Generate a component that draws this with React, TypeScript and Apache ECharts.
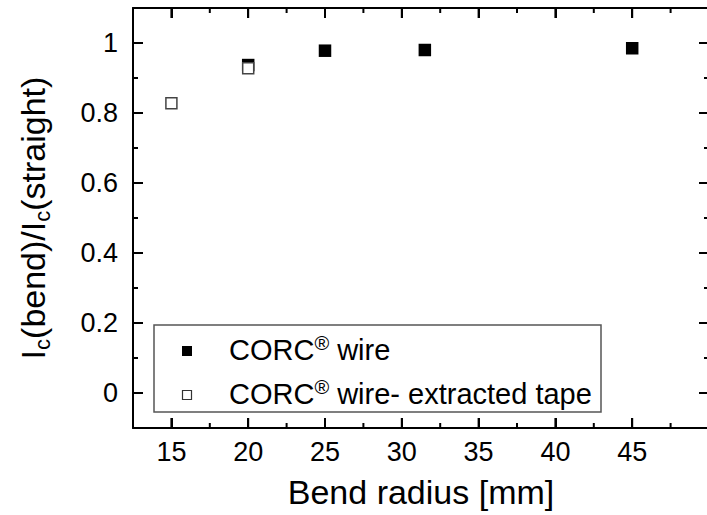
import React, { useEffect, useRef } from "react";
import * as echarts from "echarts";

const wireRadius = [20, 25, 31.5, 45];
const wireRatio = [0.937, 0.978, 0.98, 0.985];
const tapeRadius = [15, 20];
const tapeRatio = [0.828, 0.928];

const xMajorTicks = [15, 20, 25, 30, 35, 40, 45];
const xMinorTicks = [17.5, 22.5, 27.5, 32.5, 37.5, 42.5, 47.5];
const xTickLabels = [15, 20, 25, 30, 35, 40, 45];
const yMajorTicks = [0, 0.2, 0.4, 0.6, 0.8, 1];
const yMinorTicks = [0.1, 0.3, 0.5, 0.7, 0.9];
const yTickLabels = [0, 0.2, 0.4, 0.6, 0.8, 1];

const seriesNames = ["CORC® wire", "CORC® wire- extracted tape"];

const X_MIN = 12.5;
const X_MAX = 50;
const Y_MIN = -0.1;
const Y_MAX = 1.1;
const X_MID = (X_MIN + X_MAX) / 2;
const Y_MID = (Y_MIN + Y_MAX) / 2;

const FONT = "'Liberation Sans', Arial, Helvetica, sans-serif";

export default function App() {
  const ref = useRef<HTMLDivElement>(null);
  useEffect(() => {
    if (!ref.current) return;
    const chart = echarts.init(ref.current, undefined, { renderer: "svg" });
    const line = { show: true, onZero: false, lineStyle: { color: "#000", width: 2 } };
    const majorTick = { show: true, inside: true, length: 10, lineStyle: { color: "#000", width: 2 } };
    const xBase = { type: "value", min: X_MIN, max: X_MAX, splitNumber: 8, splitLine: { show: false } };
    const yBase = { type: "value", min: Y_MIN, max: Y_MAX, splitNumber: 6, splitLine: { show: false } };

    const xTicks = (vals: number[], len: number) => ({
      type: "custom",
      xAxisIndex: 0,
      yAxisIndex: 0,
      data: vals.map((v) => [v, Y_MID]),
      renderItem: (_p: any, api: any) => {
        const v = api.value(0);
        const b = api.coord([v, Y_MIN]);
        const t = api.coord([v, Y_MAX]);
        return {
          type: "group",
          children: [
            { type: "line", shape: { x1: b[0], y1: b[1], x2: b[0], y2: b[1] - len }, style: { stroke: "#000", lineWidth: 2 } },
            { type: "line", shape: { x1: t[0], y1: t[1], x2: t[0], y2: t[1] + len }, style: { stroke: "#000", lineWidth: 2 } },
          ],
        };
      },
    });
    const yTicks = (vals: number[], len: number) => ({
      type: "custom",
      xAxisIndex: 0,
      yAxisIndex: 0,
      data: vals.map((v) => [X_MID, v]),
      renderItem: (_p: any, api: any) => {
        const v = api.value(1);
        const l = api.coord([X_MIN, v]);
        const r = api.coord([X_MAX, v]);
        return {
          type: "group",
          children: [
            { type: "line", shape: { x1: l[0], y1: l[1], x2: l[0] + len, y2: l[1] }, style: { stroke: "#000", lineWidth: 2 } },
            { type: "line", shape: { x1: r[0], y1: r[1], x2: r[0] - len, y2: r[1] }, style: { stroke: "#000", lineWidth: 2 } },
          ],
        };
      },
    });

    const legendText = (name: string, y: number) => ({
      type: "text",
      x: 229,
      y,
      style: {
        text: name.replace("®", "{sup|®}"),
        fontSize: 29,
        lineHeight: 34,
        fontFamily: FONT,
        fill: "#000",
        verticalAlign: "middle",
        align: "left",
        rich: {
          sup: { fontSize: 20, lineHeight: 22, verticalAlign: "top", fill: "#000", fontFamily: FONT },
        },
      },
    });

    chart.setOption({
      animation: false,
      backgroundColor: "#fff",
      grid: { left: 133, right: -2, top: 8, bottom: 87, containLabel: false, outerBoundsMode: "none" },
      xAxis: [
        {
          ...xBase,
          position: "bottom",
          axisLine: line,
          axisTick: majorTick,
          axisLabel: {
            customValues: xTickLabels,
            fontSize: 27,
            color: "#000",
            fontFamily: FONT,
            margin: 10,
          },
          name: "Bend radius [mm]",
          nameLocation: "middle",
          nameGap: 47,
          nameTextStyle: { fontSize: 34, color: "#000", fontFamily: FONT },
        },
        { ...xBase, position: "top", axisLine: line, axisTick: majorTick, axisLabel: { show: false } },
      ],
      yAxis: [
        {
          ...yBase,
          position: "left",
          axisLine: line,
          axisTick: majorTick,
          axisLabel: {
            customValues: yTickLabels,
            fontSize: 27,
            color: "#000",
            fontFamily: FONT,
            margin: 15,
          },
          name: "I{sub|c}(bend)/I{sub|c}(straight)",
          nameLocation: "middle",
          nameRotate: 90,
          nameGap: 80,
          nameTextStyle: {
            fontSize: 34,
            color: "#000",
            fontFamily: FONT,
            lineHeight: 40,
            rich: {
              sub: { fontSize: 22, lineHeight: 18, verticalAlign: "bottom", color: "#000", fontFamily: FONT },
            },
          },
        },
        { ...yBase, position: "right", axisLine: line, axisTick: majorTick, axisLabel: { show: false } },
      ],
      graphic: [
        {
          type: "rect",
          shape: { x: 154, y: 325, width: 447, height: 87 },
          style: { fill: "rgba(0,0,0,0)", stroke: "#555", lineWidth: 1.5 },
        },
        { type: "rect", shape: { x: 182, y: 346, width: 10, height: 10 }, style: { fill: "#000" } },
        {
          type: "rect",
          shape: { x: 182.5, y: 390.5, width: 9, height: 9 },
          style: { fill: "#fff", stroke: "#333", lineWidth: 1.2 },
        },
        legendText(seriesNames[0], 350),
        legendText(seriesNames[1], 394),
      ],
      series: [
        xTicks(xMajorTicks, 10),
        xTicks(xMinorTicks, 5),
        yTicks(yMajorTicks, 10),
        yTicks(yMinorTicks, 5),
        {
          type: "scatter",
          name: seriesNames[0],
          xAxisIndex: 0,
          yAxisIndex: 0,
          symbol: "rect",
          symbolSize: 12.5,
          itemStyle: { color: "#000", opacity: 1 },
          data: wireRadius.map((r, i) => [r, wireRatio[i]]),
        },
        {
          type: "scatter",
          name: seriesNames[1],
          xAxisIndex: 0,
          yAxisIndex: 0,
          symbol: "rect",
          symbolSize: 11,
          itemStyle: { color: "#fff", borderColor: "#444", borderWidth: 1.5, opacity: 1 },
          data: tapeRadius.map((r, i) => [r, tapeRatio[i]]),
        },
      ],
    });
    return () => chart.dispose();
  }, []);
  return (
    <div
      ref={ref}
      style={{ position: "fixed", left: 0, top: 0, width: 707, height: 515, background: "#fff" }}
    />
  );
}
